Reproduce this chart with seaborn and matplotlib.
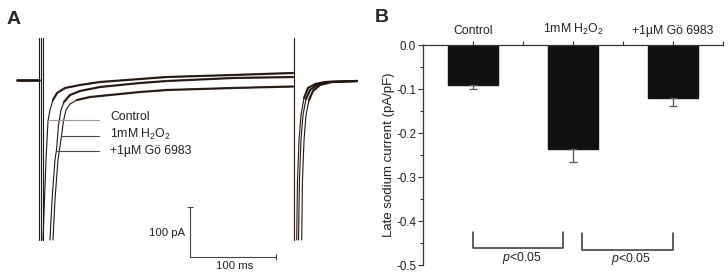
import matplotlib
matplotlib.use("Agg")
import matplotlib.pyplot as plt
import numpy as np
import seaborn as sns

# ---- panel A: current traces (time in ms, current in pA) ----
hold_t = [-26.7, -1.2]
hold_i = [0, 0]

artifact_t = [-0.8, 0.8, 3.5, 295.3]
artifact_top = 84
artifact_bottom = -320

ctrl_t = [3.5, 5.2, 7.0, 9.3, 11.6, 15.1, 19.8, 29.1, 46.5, 69.8, 116.3, 147.7, 224.4, 294.2]
ctrl_i = [-320, -240, -160, -82, -60, -40, -26, -16, -10, -4, 2, 6, 10, 14]

go_t = [11.6, 14.0, 17.4, 19.2, 21.5, 24.4, 27.9, 34.9, 46.5, 69.8, 116.3, 147.7, 224.4, 294.2]
go_i = [-320, -240, -160, -140, -90, -60, -44, -30, -22, -14, -6, -2, 4, 6]

h2o2_t = [15.1, 17.4, 20.9, 25.0, 27.3, 30.2, 34.9, 43.0, 58.1, 69.8, 116.3, 147.7, 224.4, 294.2]
h2o2_i = [-320, -240, -160, -112, -82, -60, -48, -40, -34, -32, -24, -20, -16, -13]

tail_ctrl_t = [298.5, 299.4, 301.2, 303.5, 307.0, 311.6, 320.3, 331.4, 368.6]
tail_go_t = [300.6, 301.7, 303.5, 305.8, 309.3, 314.0, 322.1, 334.9, 368.6]
tail_h2o2_t = [304.3, 305.2, 307.0, 309.3, 312.8, 317.4, 325.6, 339.5, 368.6]
tail_ctrl_i = [-320, -200, -120, -70, -36, -16, -8, -4, -2]
tail_go_i = [-320, -200, -120, -70, -38, -20, -10, -4, -2]
tail_h2o2_i = [-320, -200, -120, -70, -40, -22, -10, -4, -2]

trace_names = ["Control", "1mM H$_2$O$_2$", "+1µM Gö 6983"]
pointer_i = [-80, -112, -142]
pointer_start_t = [9.3, 25.6, 19.8]
pointer_end_t = 68.6
name_t = 81.4
name_i = [-75, -109, -142]

# ---- panel B: late sodium current ----
conditions = ["Control", "1mM H$_2$O$_2$", "+1µM Gö 6983"]
late_na = [-0.091, -0.237, -0.121]
late_sem = [0.010, 0.028, 0.018]

sns.set_theme(style="white")
plt.rcParams["font.family"] = ["Liberation Sans", "DejaVu Sans"]
plt.rcParams["mathtext.fontset"] = "custom"
plt.rcParams["mathtext.rm"] = "Liberation Sans"
plt.rcParams["mathtext.it"] = "Liberation Sans:italic"
plt.rcParams["axes.unicode_minus"] = False

W, H = 728, 277
fig = plt.figure(figsize=(W / 100, H / 100), dpi=100)

trace_col = "#22150f"

# panel A
axA = fig.add_axes([10 / W, 1 - 270 / H, 350 / W, 240 / H])
axA.set_xlim(-34.88, 372.09)
axA.set_ylim(-380, 100)
axA.axis("off")

sns.lineplot(x=hold_t, y=hold_i, sort=False, estimator=None, color=trace_col, lw=2.0, ax=axA)
for t in artifact_t:
    axA.plot([t, t], [artifact_top, artifact_bottom], color=trace_col, lw=0.8)

for tt, ii in [(ctrl_t, ctrl_i), (go_t, go_i), (h2o2_t, h2o2_i),
               (tail_ctrl_t, tail_ctrl_i), (tail_go_t, tail_go_i), (tail_h2o2_t, tail_h2o2_i)]:
    sns.lineplot(x=tt, y=ii, sort=False, estimator=None, color=trace_col, lw=0.8, ax=axA)
    tt = np.array(tt)
    ii = np.array(ii)
    flat = ii >= -45
    sns.lineplot(x=tt[flat], y=ii[flat], sort=False, estimator=None,
                 color=trace_col, lw=1.6, alpha=0.9, ax=axA)

pointer_cols = ["#9a9a9a", "#444444", "#444444"]
for k in range(3):
    axA.plot([pointer_start_t[k], pointer_end_t], [pointer_i[k], pointer_i[k]],
             color=pointer_cols[k], lw=0.8)
    axA.text(name_t, name_i[k], trace_names[k], fontsize=8.8, color="#222222",
             ha="left", va="center")

# scale bar
axA.plot([174.4, 174.4, 274.4], [-254, -354, -354], color="#444444", lw=0.8)
axA.plot([174.4], [-254], marker="_", ms=4, color="#444444", mew=0.8)
axA.plot([274.4], [-354], marker="|", ms=4, color="#444444", mew=0.8)
axA.text(168.6, -306, "100 pA", fontsize=8.2, ha="right", va="center", color="#222222")
axA.text(226.7, -372, "100 ms", fontsize=8.2, ha="center", va="center", color="#222222")

fig.text(14 / W, 1 - 19 / H, "A", fontsize=14, fontweight="bold", ha="center", va="center")
fig.text(382 / W, 1 - 18 / H, "B", fontsize=14, fontweight="bold", ha="center", va="center")

# panel B
axB = fig.add_axes([423 / W, 1 - 265 / H, 300 / W, 220 / H])
sns.barplot(x=conditions, y=late_na, color="#111111", edgecolor="#111111",
            width=0.5, errorbar=None, saturation=1, ax=axB)
axB.errorbar([0, 1, 2], late_na, yerr=[late_sem, [0, 0, 0]], fmt="none",
             ecolor="#555555", elinewidth=0.9, capsize=3, capthick=0.9)
axB.set_xlim(-0.5, 2.5)
axB.set_ylim(-0.5, 0)
for side in ["right", "bottom"]:
    axB.spines[side].set_visible(False)
for side in ["left", "top"]:
    axB.spines[side].set_color("#333333")
    axB.spines[side].set_linewidth(0.9)

axB.xaxis.tick_top()
axB.set_xticks([0, 1, 2])
axB.set_xticks([0.5, 1.5, 2.5], minor=True)
axB.set_xticklabels(conditions, fontsize=8.8, color="#222222")
axB.set_xlabel("")
axB.set_yticks([0, -0.1, -0.2, -0.3, -0.4, -0.5])
axB.set_yticks([-0.05, -0.15, -0.25, -0.35, -0.45], minor=True)
axB.set_yticklabels(["0.0", "-0.1", "-0.2", "-0.3", "-0.4", "-0.5"], fontsize=8.4, color="#222222")
axB.tick_params(axis="x", which="both", top=True, bottom=False, direction="out",
                length=3, width=0.8, color="#333333", pad=3)
axB.tick_params(axis="y", which="major", left=True, direction="out",
                length=3.5, width=0.8, color="#333333", pad=1.5)
axB.tick_params(axis="y", which="minor", left=True, direction="out",
                length=2, width=0.8, color="#333333")
axB.set_ylabel("Late sodium current (pA/pF)", fontsize=9.5, color="#222222", labelpad=1)

# significance brackets
axB.plot([0, 0, 0.9, 0.9], [-0.424, -0.462, -0.462, -0.424], color="#333333", lw=1.1)
axB.plot([1.09, 1.09, 2, 2], [-0.427, -0.466, -0.466, -0.427], color="#333333", lw=1.1)
axB.text(0.49, -0.484, "$\\it{p}$<0.05", fontsize=8.8, ha="center", va="center", color="#222222")
axB.text(1.58, -0.486, "$\\it{p}$<0.05", fontsize=8.8, ha="center", va="center", color="#222222")

fig.savefig("out.png", dpi=100)
